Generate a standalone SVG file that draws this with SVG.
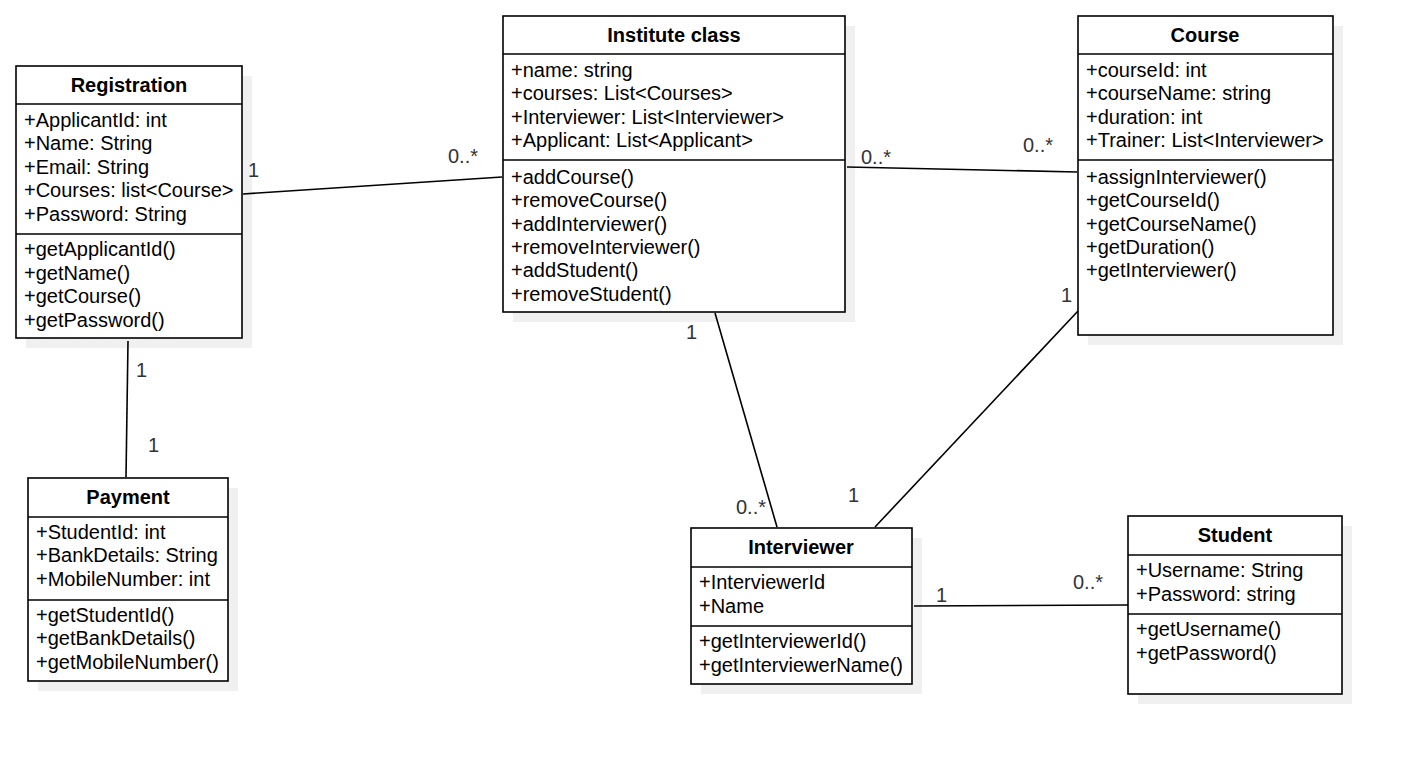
<svg xmlns="http://www.w3.org/2000/svg" width="1404" height="757" viewBox="0 0 1404 757">
<style>
.sh{fill:#f0f0f0;stroke:none}
.bx{fill:#fff;stroke:#000;stroke-width:1.6}
.sep{stroke:#000;stroke-width:1.6}
.t{font-family:"Liberation Sans",Arial,sans-serif;font-size:20px;fill:#000}
.h{font-family:"Liberation Sans",Arial,sans-serif;font-size:20px;font-weight:bold;fill:#000;text-anchor:middle}
.c{stroke:#000;stroke-width:1.6;fill:none}
.l{font-family:"Liberation Sans",Arial,sans-serif;font-size:20px;fill:#333}
</style>
<rect width="1404" height="757" fill="#fff"/>
<g id="registration">
<rect class="sh" x="26" y="76" width="226" height="272"/>
<rect class="bx" x="16" y="66" width="226" height="272"/>
<line class="sep" x1="16" y1="104" x2="242" y2="104"/>
<line class="sep" x1="16" y1="234" x2="242" y2="234"/>
<text class="h" x="129" y="92">Registration</text>
<text class="t" x="24" y="127">+ApplicantId: int</text>
<text class="t" x="24" y="150">+Name: String</text>
<text class="t" x="24" y="174">+Email: String</text>
<text class="t" x="24" y="197">+Courses: list&lt;Course&gt;</text>
<text class="t" x="24" y="221">+Password: String</text>
<text class="t" x="24" y="256">+getApplicantId()</text>
<text class="t" x="24" y="280">+getName()</text>
<text class="t" x="24" y="303">+getCourse()</text>
<text class="t" x="24" y="327">+getPassword()</text>
</g>
<g id="institute">
<rect class="sh" x="513" y="26" width="342" height="296"/>
<rect class="bx" x="503" y="16" width="342" height="296"/>
<line class="sep" x1="503" y1="54" x2="845" y2="54"/>
<line class="sep" x1="503" y1="160" x2="845" y2="160"/>
<text class="h" x="674" y="42">Institute class</text>
<text class="t" x="511" y="77">+name: string</text>
<text class="t" x="511" y="100">+courses: List&lt;Courses&gt;</text>
<text class="t" x="511" y="124">+Interviewer: List&lt;Interviewer&gt;</text>
<text class="t" x="511" y="147">+Applicant: List&lt;Applicant&gt;</text>
<text class="t" x="511" y="184">+addCourse()</text>
<text class="t" x="511" y="207">+removeCourse()</text>
<text class="t" x="511" y="231">+addInterviewer()</text>
<text class="t" x="511" y="254">+removeInterviewer()</text>
<text class="t" x="511" y="277">+addStudent()</text>
<text class="t" x="511" y="301">+removeStudent()</text>
</g>
<g id="course">
<rect class="sh" x="1088" y="26" width="255" height="319"/>
<rect class="bx" x="1078" y="16" width="255" height="319"/>
<line class="sep" x1="1078" y1="54" x2="1333" y2="54"/>
<line class="sep" x1="1078" y1="160" x2="1333" y2="160"/>
<text class="h" x="1205" y="42">Course</text>
<text class="t" x="1086" y="77">+courseId: int</text>
<text class="t" x="1086" y="100">+courseName: string</text>
<text class="t" x="1086" y="124">+duration: int</text>
<text class="t" x="1086" y="147">+Trainer: List&lt;Interviewer&gt;</text>
<text class="t" x="1086" y="184">+assignInterviewer()</text>
<text class="t" x="1086" y="207">+getCourseId()</text>
<text class="t" x="1086" y="231">+getCourseName()</text>
<text class="t" x="1086" y="254">+getDuration()</text>
<text class="t" x="1086" y="277">+getInterviewer()</text>
</g>
<g id="payment">
<rect class="sh" x="38" y="488" width="200" height="203"/>
<rect class="bx" x="28" y="478" width="200" height="203"/>
<line class="sep" x1="28" y1="517" x2="228" y2="517"/>
<line class="sep" x1="28" y1="600" x2="228" y2="600"/>
<text class="h" x="128" y="504">Payment</text>
<text class="t" x="36" y="539">+StudentId: int</text>
<text class="t" x="36" y="562">+BankDetails: String</text>
<text class="t" x="36" y="586">+MobileNumber: int</text>
<text class="t" x="36" y="622">+getStudentId()</text>
<text class="t" x="36" y="645">+getBankDetails()</text>
<text class="t" x="36" y="669">+getMobileNumber()</text>
</g>
<g id="interviewer">
<rect class="sh" x="701" y="538" width="221" height="156"/>
<rect class="bx" x="691" y="528" width="221" height="156"/>
<line class="sep" x1="691" y1="567" x2="912" y2="567"/>
<line class="sep" x1="691" y1="626" x2="912" y2="626"/>
<text class="h" x="801" y="554">Interviewer</text>
<text class="t" x="699" y="589">+InterviewerId</text>
<text class="t" x="699" y="613">+Name</text>
<text class="t" x="699" y="648">+getInterviewerId()</text>
<text class="t" x="699" y="672">+getInterviewerName()</text>
</g>
<g id="student">
<rect class="sh" x="1138" y="526" width="214" height="178"/>
<rect class="bx" x="1128" y="516" width="214" height="178"/>
<line class="sep" x1="1128" y1="555" x2="1342" y2="555"/>
<line class="sep" x1="1128" y1="614" x2="1342" y2="614"/>
<text class="h" x="1235" y="542">Student</text>
<text class="t" x="1136" y="577">+Username: String</text>
<text class="t" x="1136" y="601">+Password: string</text>
<text class="t" x="1136" y="636">+getUsername()</text>
<text class="t" x="1136" y="660">+getPassword()</text>
</g>
<g id="connectors">
<line class="c" x1="243" y1="194" x2="502" y2="177"/>
<line class="c" x1="847" y1="167" x2="1077" y2="172"/>
<line class="c" x1="128" y1="341" x2="126" y2="477"/>
<line class="c" x1="715" y1="313" x2="777" y2="527"/>
<line class="c" x1="1078" y1="311" x2="875" y2="527"/>
<line class="c" x1="914" y1="606" x2="1128" y2="605"/>
<text class="l" x="248" y="177">1</text>
<text class="l" x="448" y="163">0..*</text>
<text class="l" x="861" y="164">0..*</text>
<text class="l" x="1023" y="152">0..*</text>
<text class="l" x="136" y="377">1</text>
<text class="l" x="148" y="452">1</text>
<text class="l" x="686" y="339">1</text>
<text class="l" x="736" y="514">0..*</text>
<text class="l" x="1061" y="302">1</text>
<text class="l" x="848" y="502">1</text>
<text class="l" x="936" y="602">1</text>
<text class="l" x="1073" y="589">0..*</text>
</g>
</svg>
